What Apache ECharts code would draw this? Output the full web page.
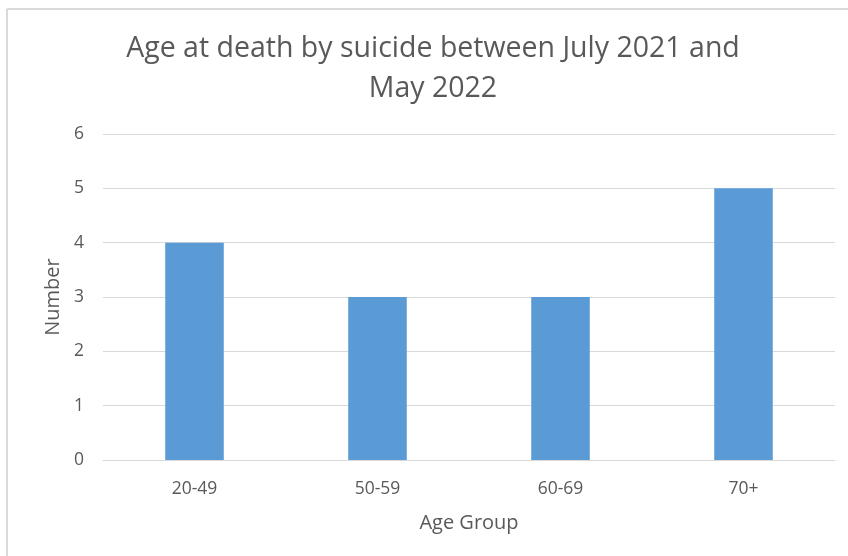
<!DOCTYPE html>
<html><head><meta charset="utf-8">
<script src="https://cdn.jsdelivr.net/npm/echarts@6/dist/echarts.min.js"></script>
<style>html,body{margin:0;padding:0;background:#fff}#c{width:848px;height:556px}</style>
</head><body><div id="c"></div>
<script>
const categories = ['20-49', '50-59', '60-69', '70+'];
const values = [4, 3, 3, 5];
const titleText = 'Age at death by suicide between July 2021 and\nMay 2022';
const xName = 'Age Group';
const yName = 'Number';
const FONT = '"Open Sans", sans-serif';
const chart = echarts.init(document.getElementById('c'));
chart.setOption({
  backgroundColor: '#fff',
  animation: false,
  graphic: [
    { type: 'line', shape: { x1: 7, y1: 9, x2: 848, y2: 9 }, style: { stroke: '#d9d9d9', lineWidth: 2 } },
    { type: 'line', shape: { x1: 7, y1: 9, x2: 7, y2: 556 }, style: { stroke: '#d9d9d9', lineWidth: 2 } },
    { type: 'text', x: 433, y: 29,
      style: { text: titleText, textAlign: 'center', textVerticalAlign: 'top', fontFamily: FONT,
               fontSize: 28.5, fontWeight: 'normal', fill: '#595959', lineHeight: 40 } }
  ],
  grid: { left: 103, right: 13, top: 134, bottom: 96 },
  xAxis: {
    type: 'category', data: categories,
    name: xName, nameLocation: 'middle', nameGap: 53,
    nameTextStyle: { fontFamily: FONT, fontSize: 20, color: '#595959' },
    axisLine: { lineStyle: { color: '#d9d9d9', width: 1 } },
    axisTick: { show: false },
    axisLabel: { fontFamily: FONT, fontSize: 17.5, color: '#595959', margin: 20 }
  },
  yAxis: {
    type: 'value', min: 0, max: 6, interval: 1,
    name: yName, nameLocation: 'middle', nameGap: 34,
    nameTextStyle: { fontFamily: FONT, fontSize: 20, color: '#595959' },
    axisLine: { show: false }, axisTick: { show: false },
    axisLabel: { fontFamily: FONT, fontSize: 17.5, color: '#595959', margin: 19 },
    splitLine: { lineStyle: { color: '#d9d9d9', width: 1 } }
  },
  series: [{
    type: 'bar', data: values, barWidth: '32%',
    itemStyle: { color: '#5b9bd5' }
  }]
});
</script></body></html>
